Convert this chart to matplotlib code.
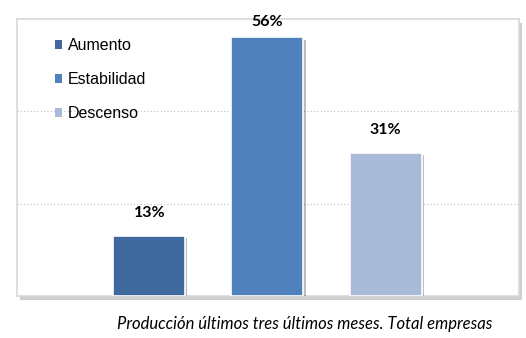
import matplotlib
matplotlib.use("Agg")
import matplotlib.pyplot as plt
import matplotlib.patheffects as pe
from matplotlib.patches import Rectangle, Patch

# Datos
categorias = ['Aumento', 'Estabilidad', 'Descenso']
valores = [13, 56, 31]
colores = ['#3F699C', '#4F81BD', '#A9BAD9']
etiquetas = ['13%', '56%', '31%']
titulo = 'Producción últimos tres últimos meses. Total empresas'

fig = plt.figure(figsize=(5.26, 3.38), dpi=100)
ax = fig.add_axes([0.0323, 0.1243, 0.9544, 0.8195])

# sombra del marco
sombra = Rectangle((0.0323 + 0.005, 0.1243 - 0.013), 0.9544, 0.8195,
                   transform=fig.transFigure, facecolor='#B0B0B0',
                   edgecolor='none', zorder=-2, alpha=0.6)
fig.patches.append(sombra)
ax.set_facecolor('white')

x = range(len(categorias))
barras = ax.bar(x, valores, width=0.61, color=colores, edgecolor='white',
                linewidth=1.2, zorder=3)
for b in barras:
    b.set_path_effects([pe.SimplePatchShadow(offset=(1.5, -1.5), alpha=0.3),
                        pe.Normal()])

for xi, v, t in zip(x, valores, etiquetas):
    ax.text(xi, min(v + 5, 59.3), t, ha='center', va='center', fontsize=11.5,
            fontweight='bold', family='Lato', color='black', zorder=5,
            clip_on=False)

ax.set_xlim(-1.12, 3.13)
ax.set_ylim(0, 60)
ax.set_yticks([20, 40])
ax.set_xticks([])
ax.tick_params(left=False, labelleft=False)
ax.grid(axis='y', linestyle=(0, (1, 2)), color='#BFBFBF', linewidth=0.8, zorder=0)
for s in ax.spines.values():
    s.set_color('#D9D9D9')
    s.set_linewidth(1.2)

handles = [Patch(facecolor=c, edgecolor='none') for c in colores]
leg = ax.legend(handles, categorias, loc='upper left',
                bbox_to_anchor=(0.062, 0.955), frameon=False,
                fontsize=11.5, handlelength=0.5, handleheight=0.5,
                handletextpad=0.35, labelspacing=1.2, borderaxespad=0)
for t in leg.get_texts():
    t.set_family('Liberation Sans')

fig.text(0.58, 0.041, titulo, ha='center', va='center', fontsize=12,
         style='italic', family='Lato')

fig.savefig('out.png', dpi=100)
